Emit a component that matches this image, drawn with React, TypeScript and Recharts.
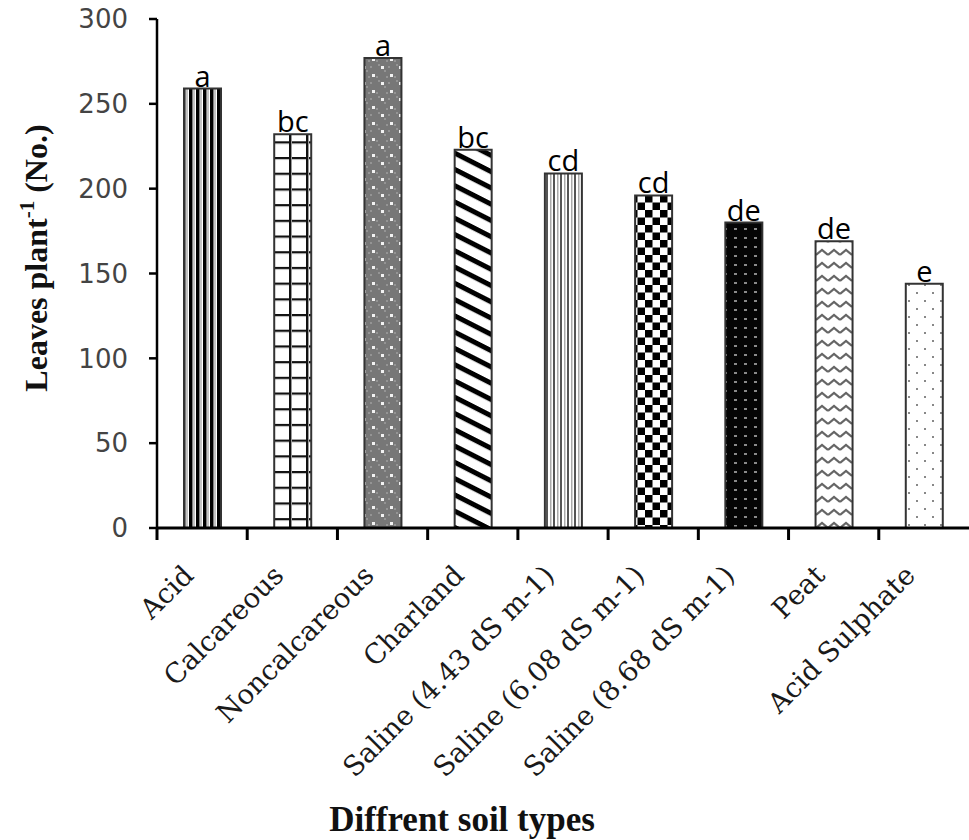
import React from "react";
import {
  BarChart,
  Bar,
  XAxis,
  YAxis,
  Cell,
  LabelList,
  Label,
} from "recharts";

const soilTypes = [
  "Acid",
  "Calcareous",
  "Noncalcareous",
  "Charland",
  "Saline (4.43 dS m-1)",
  "Saline (6.08 dS m-1)",
  "Saline (8.68 dS m-1)",
  "Peat",
  "Acid Sulphate",
];
const leavesPerPlant = [259, 232, 277, 223, 209, 196, 180, 169, 144];
const groupLetters = ["a", "bc", "a", "bc", "cd", "cd", "de", "de", "e"];
const yTicks = [0, 50, 100, 150, 200, 250, 300];

const data = soilTypes.map((soil, i) => ({
  soil,
  leaves: leavesPerPlant[i],
  letter: groupLetters[i],
}));

const patternIds = [
  "pAcid",
  "pCalc",
  "pNonCalc",
  "pChar",
  "pSal1",
  "pSal2",
  "pSal3",
  "pPeat",
  "pAcidS",
];

const W = 969;
const H = 840;
const PLOT_LEFT = 157;
const BAND = (W - PLOT_LEFT) / soilTypes.length;

const XTick = ({ x, y, payload }: any) => {
  const half = BAND / 2;
  return (
    <g>
      <line
        x1={x - half}
        y1={y}
        x2={x - half}
        y2={y + 12}
        stroke="#000"
        strokeWidth={3}
      />
      <text
        transform={`translate(${x - 7},${y + 49}) rotate(-45)`}
        textAnchor="end"
        fontFamily="'DejaVu Serif', serif"
        fontSize={27.5}
        fill="#1a1a1a"
      >
        {payload.value}
      </text>
    </g>
  );
};

const YTitle = () => (
  <text
    transform="translate(47,258) rotate(-90)"
    textAnchor="middle"
    fontFamily="'Liberation Serif', serif"
    fontWeight="bold"
    fontSize={32}
    fill="#111"
  >
    Leaves plant
    <tspan fontSize={21} dy={-13}>
      -1
    </tspan>
    <tspan dy={13}> (No.)</tspan>
  </text>
);

const XTitle = () => (
  <text
    x={462}
    y={831}
    textAnchor="middle"
    fontFamily="'Liberation Serif', serif"
    fontWeight="bold"
    fontSize={35}
    fill="#111"
  >
    Diffrent soil types
  </text>
);

export default function App() {
  return (
    <div style={{ width: W, height: H, background: "#fff" }}>
      <style>{`body{margin:0}`}</style>
      <BarChart
        width={W}
        height={H}
        data={data}
        margin={{ top: 19, right: 0, left: 57, bottom: 0 }}
        barCategoryGap={0}
      >
        <defs>
          <pattern id="pAcid" width={7} height={10} patternUnits="userSpaceOnUse">
            <rect width={7} height={10} fill="#fff" />
            <rect x={0} width={3.5} height={10} fill="#000" />
            <rect x={4.5} width={1} height={10} fill="#888" />
          </pattern>
          <pattern id="pCalc" width={17} height={15.7} patternUnits="userSpaceOnUse">
            <rect width={17} height={15.7} fill="#fff" />
            <rect x={0} y={0} width={17} height={2} fill="#111" />
            <rect x={0} y={2} width={17} height={1} fill="#bbb" />
            <rect x={0} y={0} width={2} height={15.7} fill="#111" />
            <rect x={2} y={0} width={1} height={15.7} fill="#999" />
          </pattern>
          <pattern id="pNonCalc" width={18} height={16} patternUnits="userSpaceOnUse">
            <rect width={18} height={16} fill="#777" />
            <rect x={0} y={0} width={2} height={2} fill="#949494" />
            <rect x={6} y={6} width={2} height={2} fill="#949494" />
            <rect x={10} y={2} width={2} height={2} fill="#949494" />
            <rect x={16} y={12} width={2} height={2} fill="#949494" />
            <rect x={8} y={12} width={2} height={2} fill="#949494" />
            <rect x={3} y={2} width={3} height={3} fill="#f2f2f2" />
            <rect x={12} y={10} width={3} height={3} fill="#f2f2f2" />
          </pattern>
          <pattern
            id="pChar"
            width={40}
            height={14.5}
            patternUnits="userSpaceOnUse"
            patternTransform="rotate(27)"
          >
            <rect width={40} height={14.5} fill="#fff" />
            <rect y={0} width={40} height={5} fill="#000" />
          </pattern>
          <pattern id="pSal1" width={7} height={10} patternUnits="userSpaceOnUse">
            <rect width={7} height={10} fill="#fff" />
            <rect x={0} width={2} height={10} fill="#555" />
            <rect x={4} width={1.5} height={10} fill="#aaa" />
          </pattern>
          <pattern id="pSal2" width={15} height={15} patternUnits="userSpaceOnUse">
            <rect width={15} height={15} fill="#fff" />
            <rect x={0} y={0} width={7.5} height={7.5} fill="#000" />
            <rect x={7.5} y={7.5} width={7.5} height={7.5} fill="#000" />
          </pattern>
          <pattern id="pSal3" width={10} height={9} patternUnits="userSpaceOnUse">
            <rect width={10} height={9} fill="#050505" />
            <rect x={4} y={3} width={3} height={2} fill="#8a8a8a" />
          </pattern>
          <pattern id="pPeat" width={12} height={13} patternUnits="userSpaceOnUse">
            <rect width={12} height={13} fill="#fff" />
            <path d="M0,8 L6,3 L12,8" fill="none" stroke="#666" strokeWidth={2.2} />
          </pattern>
          <pattern id="pAcidS" width={16} height={16} patternUnits="userSpaceOnUse">
            <rect width={16} height={16} fill="#fff" />
            <rect x={4} y={4} width={2} height={2} fill="#888" />
            <rect x={12} y={12} width={2} height={2} fill="#888" />
          </pattern>
        </defs>
        <XAxis
          dataKey="soil"
          interval={0}
          height={312}
          tickSize={0}
          tickMargin={0}
          tickLine={false}
          axisLine={{ stroke: "#000", strokeWidth: 3 }}
          tick={<XTick />}
        >
          <Label content={<XTitle />} />
        </XAxis>
        <YAxis
          width={100}
          domain={[0, 300]}
          ticks={yTicks}
          interval={0}
          tickSize={8}
          tickMargin={21}
          axisLine={{ stroke: "#000", strokeWidth: 2.5 }}
          tickLine={{ stroke: "#000", strokeWidth: 2.5 }}
          tick={{
            fontFamily: "'DejaVu Sans', sans-serif",
            fontSize: 26,
            fill: "#444",
          }}
        >
          <Label content={<YTitle />} />
        </YAxis>
        <Bar
          dataKey="leaves"
          barSize={37}
          stroke="#333"
          strokeWidth={2}
          isAnimationActive={false}
        >
          {data.map((d, i) => (
            <Cell key={d.soil} fill={`url(#${patternIds[i]})`} />
          ))}
          <LabelList
            dataKey="letter"
            position="top"
            offset={2}
            fontFamily="'Open Sans', sans-serif"
            fontSize={29}
            fill="#000"
          />
        </Bar>
      </BarChart>
    </div>
  );
}
